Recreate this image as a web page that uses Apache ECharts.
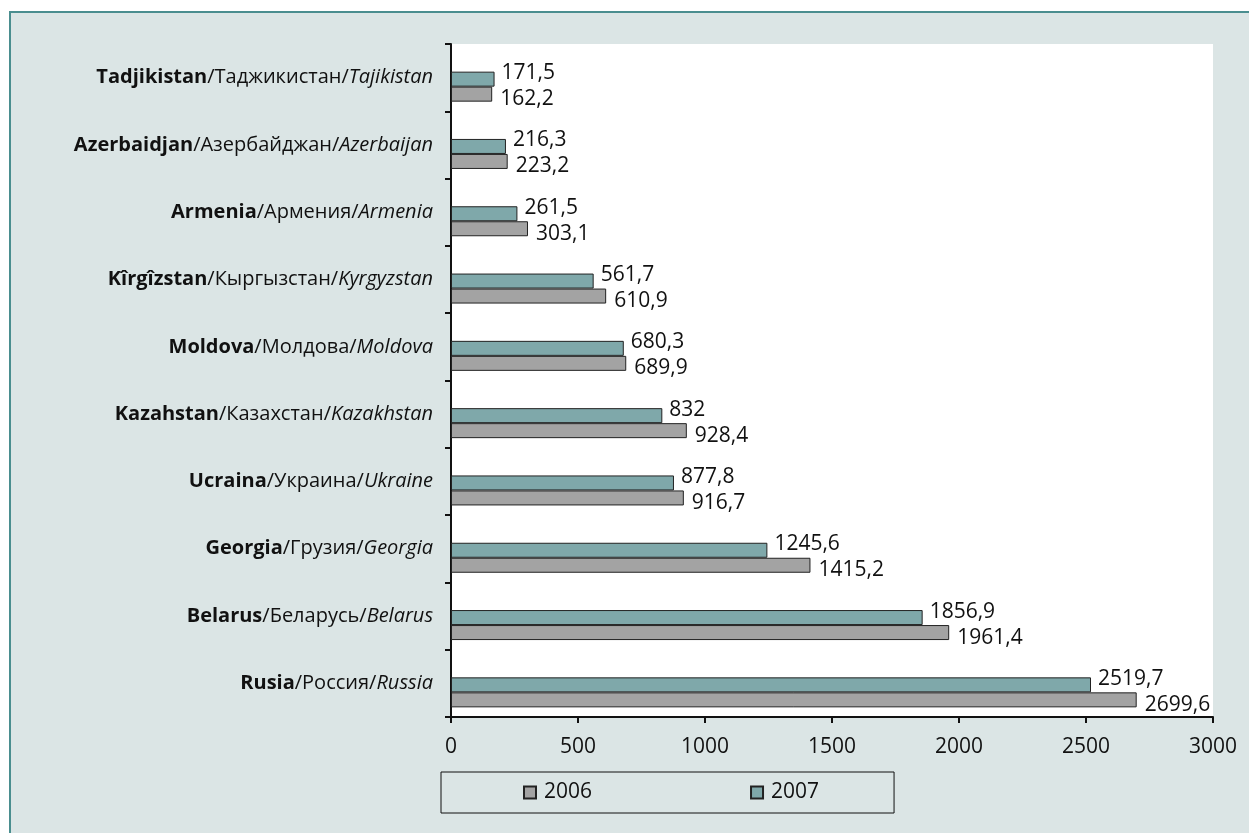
<!DOCTYPE html>
<html>
<head>
<meta charset="utf-8">
<script src="https://cdn.jsdelivr.net/npm/echarts@6/dist/echarts.min.js"></script>
<style>
  html, body { margin: 0; padding: 0; background: #fff; overflow: hidden; }
  #frame { position: absolute; left: 9px; top: 11px; width: 1300px; height: 900px;
           background: #dbe5e5; border-top: 2px solid #4a8e8f; border-left: 2px solid #4a8e8f; }
  #chart { position: absolute; left: 0; top: 0; width: 1249px; height: 833px; }
</style>
</head>
<body>
<div id="frame"></div>
<div id="chart"></div>
<script>
// categories, bottom to top (Russia at the bottom)
var countries = [
  'Rusia/Россия/Russia',
  'Belarus/Беларусь/Belarus',
  'Georgia/Грузия/Georgia',
  'Ucraina/Украина/Ukraine',
  'Kazahstan/Казахстан/Kazakhstan',
  'Moldova/Молдова/Moldova',
  'Kîrgîzstan/Кыргызстан/Kyrgyzstan',
  'Armenia/Армения/Armenia',
  'Azerbaidjan/Азербайджан/Azerbaijan',
  'Tadjikistan/Таджикистан/Tajikistan'
];
var values2006 = [2699.6, 1961.4, 1415.2, 916.7, 928.4, 689.9, 610.9, 303.1, 223.2, 162.2];
var values2007 = [2519.7, 1856.9, 1245.6, 877.8, 832, 680.3, 561.7, 261.5, 216.3, 171.5];
var xTicks = [0, 500, 1000, 1500, 2000, 2500, 3000];

var fontFam = '"Open Sans", sans-serif';
function fmt(v) { return String(v).replace('.', ','); }

var chart = echarts.init(document.getElementById('chart'));

var option = {
  backgroundColor: 'transparent',
  animation: false,
  textStyle: { fontFamily: fontFam },
  grid: {
    left: 451, top: 44, width: 762, height: 673,
    show: true, backgroundColor: '#ffffff', borderWidth: 0
  },
  legend: {
    data: ['2006', '2007'],
    left: 441, top: 772,
    orient: 'horizontal',
    itemWidth: 12, itemHeight: 12, itemGap: 158,
    padding: [10, 75, 10, 82],
    backgroundColor: '#dbe5e5',
    borderColor: '#111', borderWidth: 1,
    textStyle: { fontSize: 21, color: '#111', fontFamily: fontFam, padding: [0, 0, 0, 3] },
    icon: 'rect'
  },
  xAxis: {
    type: 'value',
    min: xTicks[0], max: xTicks[xTicks.length - 1], interval: 500,
    splitLine: { show: false },
    axisLine: { show: true, lineStyle: { color: '#111', width: 2 } },
    axisTick: { show: true, length: 6, lineStyle: { color: '#111', width: 2 } },
    axisLabel: {
      fontSize: 21, color: '#111', margin: 20, fontFamily: fontFam,
      formatter: function (v) { return String(v); }
    }
  },
  yAxis: {
    type: 'category',
    data: countries,
    axisLine: { show: true, lineStyle: { color: '#111', width: 2 } },
    axisTick: { show: true, length: 6, lineStyle: { color: '#111', width: 2 } },
    axisLabel: {
      margin: 18,
      formatter: function (v) {
        var p = v.split('/');
        return '{b|' + p[0] + '}{r|/' + p[1] + '/}{i|' + p[2] + '}';
      },
      rich: {
        b: { fontSize: 20, fontWeight: 'bold', color: '#111', fontFamily: fontFam },
        r: { fontSize: 20, color: '#111', fontFamily: fontFam },
        i: { fontSize: 20, fontStyle: 'italic', color: '#111', fontFamily: fontFam }
      }
    }
  },
  series: [
    {
      // empty spacer that pushes the pair of bars a little below the band centre
      name: 'spacer', type: 'bar', barWidth: 18, barGap: 0, silent: true,
      data: countries.map(function () { return '-'; })
    },
    {
      name: '2007', type: 'bar', barWidth: 15, barGap: 0,
      data: values2007,
      itemStyle: { color: '#7fa8aa', borderColor: '#222', borderWidth: 1 },
      label: {
        show: true, position: 'right', distance: 7, offset: [0, -6],
        fontSize: 21, color: '#111', fontFamily: fontFam,
        formatter: function (p) { return fmt(p.value); }
      }
    },
    {
      name: '2006', type: 'bar', barWidth: 15, barGap: 0,
      data: values2006,
      itemStyle: { color: '#a3a3a3', borderColor: '#222', borderWidth: 1 },
      label: {
        show: true, position: 'right', distance: 8, offset: [0, 5],
        fontSize: 21, color: '#111', fontFamily: fontFam,
        formatter: function (p) { return fmt(p.value); }
      }
    }
  ]
};

chart.setOption(option);
</script>
</body>
</html>
